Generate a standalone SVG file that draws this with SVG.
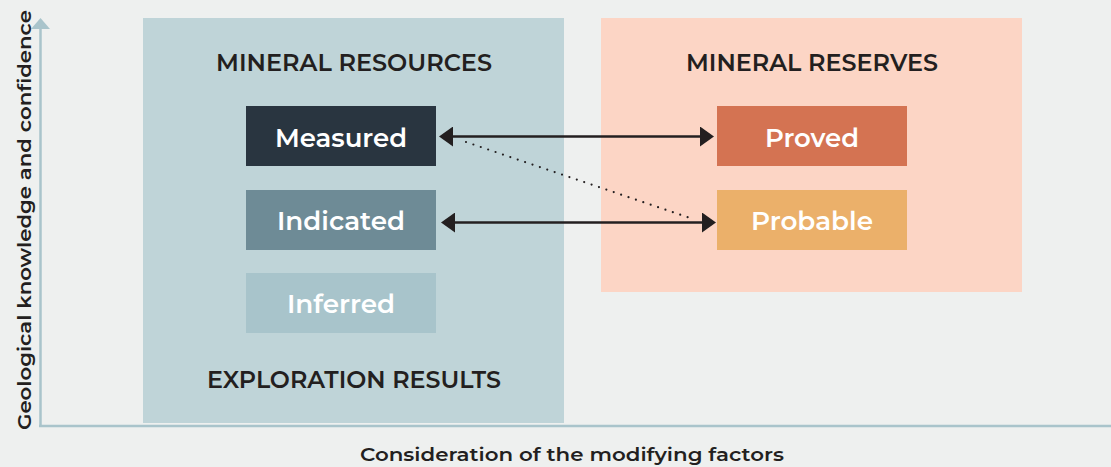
<svg xmlns="http://www.w3.org/2000/svg" width="1111" height="467" viewBox="0 0 1111 467">
  <style>
    .heading { font-family: "Montserrat", "Inter", "Open Sans", sans-serif; font-weight: 600; font-size: 24px; fill: #231f20; text-anchor: middle; }
    .label { font-family: "Montserrat", "Inter", "Open Sans", sans-serif; font-weight: 600; font-size: 26px; fill: #ffffff; text-anchor: middle; }
    .axis-title { font-family: "Montserrat", "Inter", "Open Sans", sans-serif; font-weight: 600; font-size: 19px; fill: #231f20; text-anchor: middle; }
    .axis { stroke: #a9c4cb; stroke-width: 2.5; fill: none; }
    .link { stroke: #231f20; stroke-width: 2.5; fill: none; }
    .dots { stroke: #231f20; stroke-width: 2.2; stroke-linecap: round; stroke-dasharray: 0 7.8; fill: none; }
  </style>
  <defs>
    <marker id="head" viewBox="0 0 14 20" refX="2" refY="10" markerWidth="14" markerHeight="20" markerUnits="userSpaceOnUse" orient="auto-start-reverse">
      <path d="M0,0 L14,10 L0,20 Z" fill="#231f20"/>
    </marker>
  </defs>

  <rect width="1111" height="467" fill="#eef0ef"/>

  <!-- axes -->
  <g id="axes">
    <line class="axis" x1="40.5" y1="27" x2="40.5" y2="426"/>
    <line class="axis" x1="39" y1="426" x2="1111" y2="426"/>
    <path d="M31,29 L40.5,18 L50,29 Z" fill="#a9c4cb"/>
    <text class="axis-title" transform="translate(31,220) rotate(-90)" textLength="420" lengthAdjust="spacingAndGlyphs">Geological knowledge and confidence</text>
    <text class="axis-title" x="572" y="461" textLength="424" lengthAdjust="spacingAndGlyphs">Consideration of the modifying factors</text>
  </g>

  <!-- panels -->
  <g id="resources-panel">
    <rect x="143" y="18" width="421" height="405" fill="#bfd4d8"/>
    <text class="heading" x="354" y="71" textLength="276" lengthAdjust="spacingAndGlyphs">MINERAL RESOURCES</text>
    <text class="heading" x="354" y="388" textLength="294" lengthAdjust="spacingAndGlyphs">EXPLORATION RESULTS</text>
  </g>
  <g id="reserves-panel">
    <rect x="601" y="18" width="421" height="274" fill="#fcd5c5"/>
    <text class="heading" x="812" y="71" textLength="252" lengthAdjust="spacingAndGlyphs">MINERAL RESERVES</text>
  </g>

  <!-- categories -->
  <g id="measured">
    <rect x="246" y="106" width="190" height="60" fill="#293540"/>
    <text class="label" x="341" y="147" textLength="132" lengthAdjust="spacingAndGlyphs">Measured</text>
  </g>
  <g id="indicated">
    <rect x="246" y="190" width="190" height="60" fill="#6e8b96"/>
    <text class="label" x="341" y="230" textLength="128" lengthAdjust="spacingAndGlyphs">Indicated</text>
  </g>
  <g id="inferred">
    <rect x="246" y="273" width="190" height="60" fill="#a8c4cb"/>
    <text class="label" x="341" y="313" textLength="108" lengthAdjust="spacingAndGlyphs">Inferred</text>
  </g>
  <g id="proved">
    <rect x="717" y="106" width="190" height="60" fill="#d47352"/>
    <text class="label" x="812" y="147" textLength="94" lengthAdjust="spacingAndGlyphs">Proved</text>
  </g>
  <g id="probable">
    <rect x="717" y="190" width="190" height="60" fill="#ebb06a"/>
    <text class="label" x="812" y="230" textLength="122" lengthAdjust="spacingAndGlyphs">Probable</text>
  </g>

  <!-- connectors -->
  <g id="connectors">
    <line class="link" x1="451" y1="136.5" x2="702" y2="136.5" marker-start="url(#head)" marker-end="url(#head)"/>
    <line class="link" x1="453" y1="222.5" x2="704" y2="222.5" marker-start="url(#head)" marker-end="url(#head)"/>
    <line class="dots" x1="466" y1="142" x2="690" y2="218"/>
  </g>
</svg>
